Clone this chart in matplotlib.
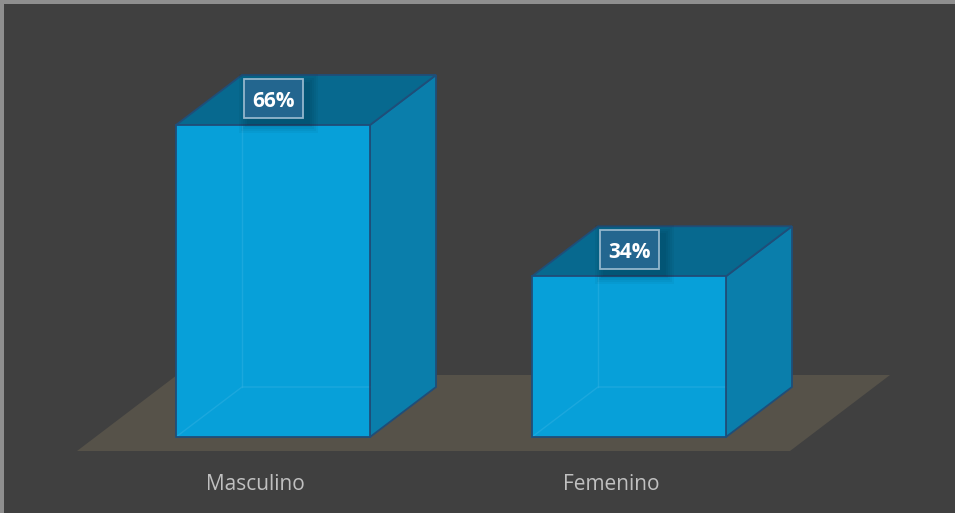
import matplotlib
matplotlib.use('Agg')
import matplotlib.pyplot as plt
from matplotlib.patches import Polygon, Rectangle

# data
categories = ['Masculino', 'Femenino']
values = [66, 34]
value_labels = ['66%', '34%']

W, H = 955, 513
bg = '#404040'
front_c = '#07a0d9'
side_c = '#0a7eab'
top_c = '#07698f'
edge_c = '#1f4e79'
floor_c = '#565249'

fig = plt.figure(figsize=(W / 100, H / 100), dpi=100, facecolor=bg)
ax = fig.add_axes([0, 0, 1, 1])
ax.set_facecolor(bg)
ax.axis('off')

# scale: pixels per category step / per percent point
px_x = 356.0
px_y = 312.0 / 66
x0_px, y0_px = 273, 437
ax.set_xlim(-x0_px / px_x, (W - x0_px) / px_x)
ax.set_ylim(-(H - y0_px) / px_y, y0_px / px_y)

bw = 194 / px_x
dx, dy = 66 / px_x, 50 / px_y

# floor
fy0, fy1 = -14 / px_y, 62 / px_y
fl, fr = (77 - x0_px) / px_x, (790 - x0_px) / px_x
fdx = 100 / px_x
ax.add_patch(Polygon([(fl, fy0), (fr, fy0), (fr + fdx, fy1), (fl + fdx, fy1)],
                     closed=True, facecolor=floor_c, edgecolor='none', zorder=1))

for i, (cat, v, lab) in enumerate(zip(categories, values, value_labels)):
    x1, x2 = i - bw / 2, i + bw / 2
    # side and top
    ax.add_patch(Polygon([(x2, 0), (x2 + dx, dy), (x2 + dx, v + dy), (x2, v)],
                         closed=True, facecolor=side_c, edgecolor=edge_c, lw=1.3, zorder=3))
    ax.add_patch(Polygon([(x1, v), (x2, v), (x2 + dx, v + dy), (x1 + dx, v + dy)],
                         closed=True, facecolor=top_c, edgecolor=edge_c, lw=1.3, zorder=3))
    # front
    ax.add_patch(Rectangle((x1, 0), bw, v, facecolor=front_c, edgecolor='none', zorder=4))
    # hidden back edges, faintly seen through the front face
    ax.plot([x1, x1 + dx, x2], [0, dy, dy], color='#30b0e2', lw=1, alpha=0.5, zorder=4.5)
    ax.plot([x1 + dx, x1 + dx], [dy, v], color='#30b0e2', lw=1, alpha=0.5, zorder=4.5)
    ax.add_patch(Rectangle((x1, 0), bw, v, facecolor='none',
                           edgecolor=edge_c, lw=1.3, zorder=5))

    # value label with soft shadow
    ly = v + 26.5 / px_y
    bwl, bhl = 59 / px_x, 39 / px_y
    for k in range(5):
        g = (5 - k) * 2.0
        ax.add_patch(Rectangle((i - bwl / 2 - g / px_x + 5 / px_x, ly - bhl / 2 - g / px_y - 5 / px_y),
                               bwl + 2 * g / px_x, bhl + 2 * g / px_y,
                               facecolor='black', alpha=0.035, edgecolor='none', zorder=5))
    ax.add_patch(Rectangle((i - bwl / 2, ly - bhl / 2), bwl, bhl,
                           facecolor='#23668f', edgecolor='#93b6cc', lw=1.3, zorder=6))
    ax.text(i, ly - 8.5 / px_y, lab, ha='center', va='baseline', color='white',
            fontsize=15, fontweight='bold', family='Open Sans', zorder=7)

    # category label
    ax.text(i - 18 / px_x, -(490 - y0_px) / px_y, cat, ha='center', va='baseline',
            color='#c0c0c0', fontsize=15, family='Open Sans', zorder=7)

# thin light border on left and top
fig.patches.append(Rectangle((0, 0), 4 / W, 1, transform=fig.transFigure,
                             facecolor='#8f8f8f', edgecolor='none'))
fig.patches.append(Rectangle((0, 1 - 4 / H), 1, 4 / H, transform=fig.transFigure,
                             facecolor='#8f8f8f', edgecolor='none'))

fig.savefig('out.png', dpi=100, facecolor=bg)
